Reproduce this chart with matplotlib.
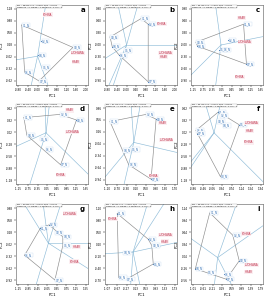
import numpy as np
import matplotlib
matplotlib.use("Agg")
import matplotlib.pyplot as plt

# genotype scores (PC1, PC2) and environment scores for each panel a..i
panel_tags = ["a", "b", "c", "d", "e", "f", "g", "h", "i"]

geno_a = [(-0.66, 0.78), (0.15, 0.38), (1.47, 0.22), (0.02, 0.03), (0.18, -0.28), (-0.54, -0.40), (0.06, -0.62)]
geno_b = [(0.60, 0.66), (0.90, 0.52), (-0.69, 0.20), (-0.60, -0.04), (-0.12, -0.14), (-0.30, -0.26), (0.90, -0.92)]
geno_c = [(0.94, 0.52), (0.31, 0.12), (-1.04, 0.07), (-0.98, -0.03), (-0.08, -0.12), (0.10, -0.12), (1.06, -0.48)]
geno_d = [(-0.92, 0.38), (0.58, 0.46), (1.27, 0.32), (-0.80, -0.06), (-0.26, -0.16), (-0.02, -0.42), (0.61, -0.80)]
geno_e = [(-0.99, 0.52), (0.51, 0.70), (0.93, 0.58), (-0.45, -0.20), (-0.09, -0.18), (-0.21, -0.56), (0.72, -0.92)]
geno_f = [(0.18, 0.52), (0.24, 0.43), (0.12, 0.28), (0.36, 0.18), (1.05, 0.20), (-0.75, 0.06), (-0.69, -0.02), (0.27, -1.10)]
geno_g = [(-0.33, 0.38), (0.03, 0.46), (0.27, 0.26), (0.60, 0.16), (0.60, -0.06), (-0.99, -0.30), (0.27, -0.92)]
geno_h = [(-0.66, 0.96), (0.63, 0.32), (0.78, 0.16), (-0.42, -0.02), (0.84, -0.30), (-0.60, -0.64), (-0.27, -0.68)]
geno_i = [(-0.33, 1.12), (0.63, 0.56), (0.90, -0.08), (-0.93, -0.28), (-0.42, -0.38), (0.27, -0.42), (0.36, -0.54)]

env_a = [(0.42, 1.04), (1.68, 0.08), (1.59, -0.14)]
env_b = [(1.47, 0.52), (1.62, -0.20), (1.53, -0.30)]
env_c = [(0.85, 0.68), (1.00, 0.08), (0.79, -0.80)]
env_d = [(0.98, 0.56), (1.09, 0.02), (0.61, -1.06)]
env_e = [(1.20, 0.48), (1.35, 0.06), (0.84, -0.84)]
env_f = [(1.56, 0.24), (1.47, 0.04), (1.44, -0.24)]
env_g = [(0.90, 0.74), (1.17, -0.10), (1.08, -0.46)]
env_h = [(-0.84, 0.82), (1.35, 0.42), (1.32, 0.26)]
env_i = [(1.20, 0.60), (1.41, -0.18), (1.29, -0.36)]

env_names_a = ["SOHNA", "LUDHIANA", "HISAR"]
env_names_b = ["SOHNA", "LUDHIANA", "HISAR"]
env_names_c = ["HISAR", "LUDHIANA", "SOHNA"]
env_names_d = ["HISAR", "LUDHIANA", "SOHNA"]
env_names_e = ["HISAR", "LUDHIANA", "SOHNA"]
env_names_f = ["LUDHIANA", "HISAR", "SOHNA"]
env_names_g = ["LUDHIANA", "HISAR", "SOHNA"]
env_names_h = ["SOHNA", "LUDHIANA", "HISAR"]
env_names_i = ["SOHNA", "LUDHIANA", "HISAR"]

pc_text = [
    "PC1 = 58.82%, PC2 = 27.56%, Sum = 86.38%",
    "PC1 = 49.30%, PC2 = 37.64%, Sum = 86.94%",
    "PC1 = 55.16%, PC2 = 31.52%, Sum = 86.68%",
    "PC1 = 52.47%, PC2 = 33.08%, Sum = 85.55%",
    "PC1 = 57.71%, PC2 = 28.93%, Sum = 86.64%",
    "PC1 = 60.12%, PC2 = 25.40%, Sum = 85.52%",
    "PC1 = 51.86%, PC2 = 34.27%, Sum = 86.13%",
    "PC1 = 54.09%, PC2 = 30.66%, Sum = 84.75%",
    "PC1 = 56.33%, PC2 = 29.18%, Sum = 85.51%",
]

# axis windows (xmin, xmax, ymin, ymax) per panel
limits = [
    (-0.90, 2.10, -0.72, 1.28),
    (-0.90, 2.10, -1.00, 1.00),
    (-1.25, 1.75, -1.00, 1.00),
    (-1.25, 1.75, -1.28, 0.72),
    (-1.20, 1.80, -1.04, 0.96),
    (-0.96, 2.04, -1.28, 0.72),
    (-1.35, 1.65, -1.02, 0.98),
    (-1.17, 1.83, -0.80, 1.20),
    (-1.11, 1.89, -0.66, 1.34),
]

genos = [geno_a, geno_b, geno_c, geno_d, geno_e, geno_f, geno_g, geno_h, geno_i]
envs = [env_a, env_b, env_c, env_d, env_e, env_f, env_g, env_h, env_i]
env_names = [env_names_a, env_names_b, env_names_c, env_names_d, env_names_e,
             env_names_f, env_names_g, env_names_h, env_names_i]

RAY = "#8fbcd8"
POLY = "#8a8a8a"
GCOL = "#2f6db3"
ECOL = "#c0314a"


def convex_hull(pts):
    pts = sorted(set(pts))
    def cross(o, a, b):
        return (a[0] - o[0]) * (b[1] - o[1]) - (a[1] - o[1]) * (b[0] - o[0])
    lower, upper = [], []
    for p in pts:
        while len(lower) >= 2 and cross(lower[-2], lower[-1], p) <= 0:
            lower.pop()
        lower.append(p)
    for p in reversed(pts):
        while len(upper) >= 2 and cross(upper[-2], upper[-1], p) <= 0:
            upper.pop()
        upper.append(p)
    return lower[:-1] + upper[:-1]


fig = plt.figure(figsize=(2.7, 3.0), dpi=100)
fig.patch.set_facecolor("white")

W, H = 270.0, 300.0
col_left = [16, 105, 191]
row_top = [5, 104, 204]
aw, ah = 72, 80

for k in range(9):
    r, c = divmod(k, 3)
    ax = fig.add_axes([col_left[c] / W, 1 - (row_top[r] + ah) / H, aw / W, ah / H])
    x0, x1, y0, y1 = limits[k]
    pts = genos[k]

    hull = convex_hull(pts)
    hx = [p[0] for p in hull] + [hull[0][0]]
    hy = [p[1] for p in hull] + [hull[0][1]]
    ax.plot(hx, hy, color=POLY, lw=0.45, zorder=2)

    # rays from the origin perpendicular to each polygon side
    for j in range(len(hull)):
        p, q = np.array(hull[j]), np.array(hull[(j + 1) % len(hull)])
        d = q - p
        n = np.array([d[1], -d[0]])
        if np.dot(n, (p + q) / 2) < 0:
            n = -n
        n = n / np.linalg.norm(n) * 10
        ax.plot([0, n[0]], [0, n[1]], color=RAY, lw=0.45, zorder=1)

    gx = [p[0] for p in pts]
    gy = [p[1] for p in pts]
    ax.scatter(gx, gy, s=0.6, color=GCOL, zorder=3, lw=0)
    for j, (x, y) in enumerate(pts):
        ax.annotate(f"G{j + 1}_N", (x, y), xytext=(0.5, 0), textcoords="offset points",
                    color=GCOL, fontsize=1.9, ha="left", va="center", zorder=4,
                    bbox=dict(boxstyle="square,pad=0.1", fc="white", ec="#b8d0ea", lw=0.2))

    for (x, y), name in zip(envs[k], env_names[k]):
        ax.text(x, y, name, color=ECOL, fontsize=1.9, ha="center", va="center", zorder=4,
                bbox=dict(boxstyle="square,pad=0.1", fc="#fbeef1", ec="none"))

    ax.set_xlim(x0, x1)
    ax.set_ylim(y0, y1)
    xt = np.round(np.linspace(x0 + 0.1, x1 - 0.1, 8), 2)
    yt = np.round(np.linspace(y0 + 0.1, y1 - 0.1, 7), 2)
    ax.set_xticks(xt)
    ax.set_yticks(yt)
    ax.set_xticklabels([f"{v:.2f}" for v in xt])
    ax.set_yticklabels([f"{v:.2f}" for v in yt])
    ax.tick_params(labelsize=2.0, length=1.2, width=0.3, pad=1)
    for s in ax.spines.values():
        s.set_linewidth(0.4)
        s.set_color("#555555")
    ax.set_xlabel("PC1", fontsize=2.8, labelpad=1.5)
    ax.set_ylabel("PC2", fontsize=2.8, labelpad=1.5)

    ax.text(0.01, 0.995, pc_text[k] + "\nTransform = 0, Scaling = 0, Centering = 2, SVP = 2",
            transform=ax.transAxes, fontsize=1.25, va="top", ha="left", linespacing=1.1,
            bbox=dict(boxstyle="square,pad=0.15", fc="white", ec="#888888", lw=0.2), zorder=5)
    ax.text(0.96, 0.97, panel_tags[k], transform=ax.transAxes, fontsize=5, fontweight="bold",
            va="top", ha="right")

fig.savefig("out.png", dpi=100, facecolor="white")
